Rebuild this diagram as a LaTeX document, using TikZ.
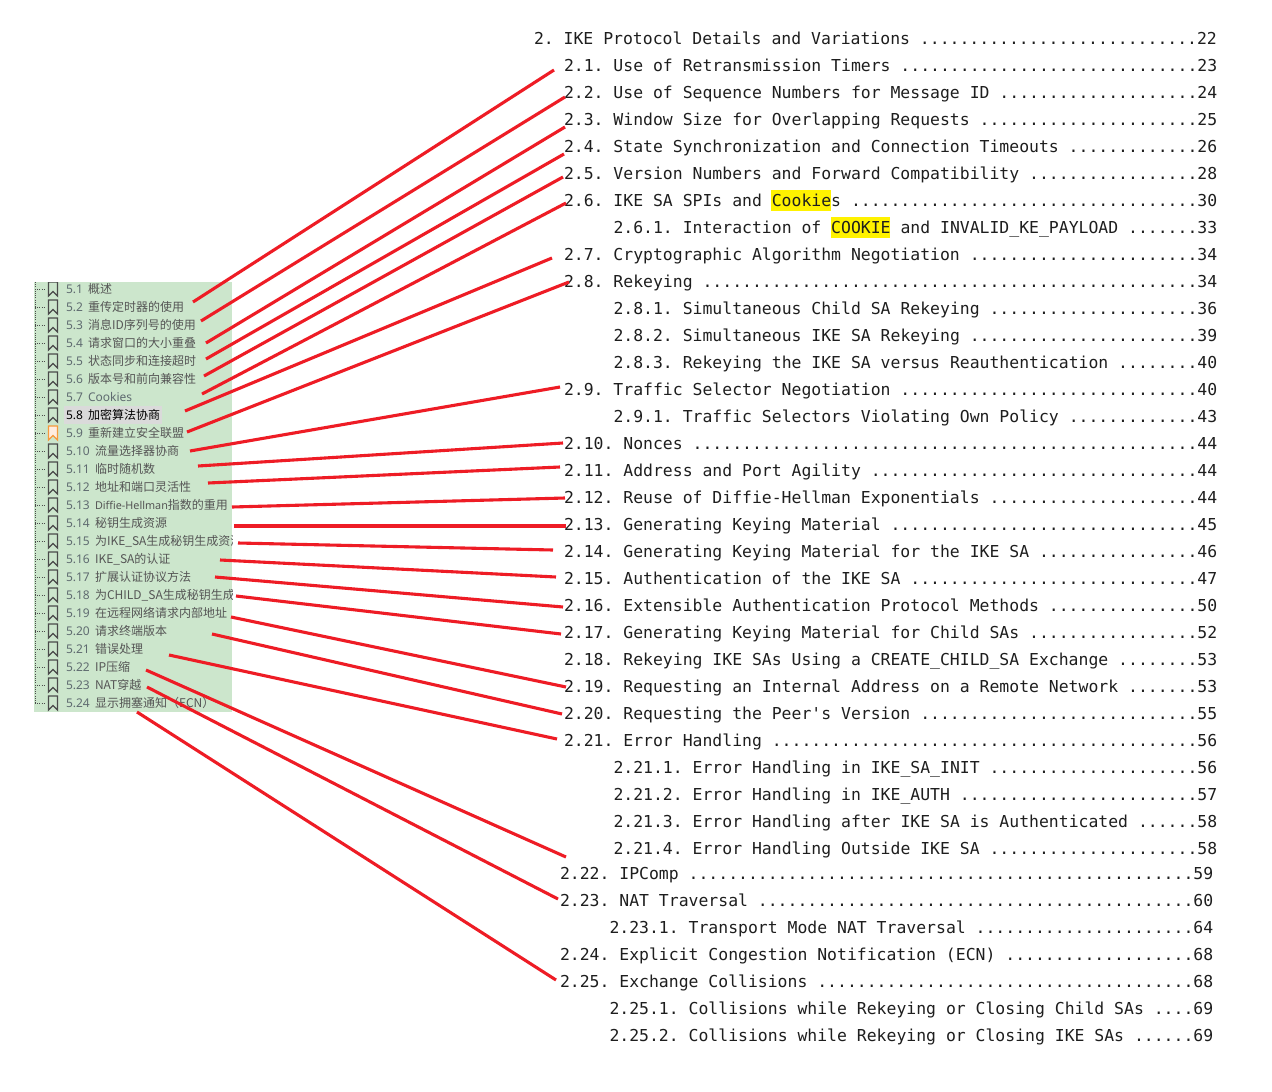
\documentclass[tikz,border=0pt]{standalone}
\usepackage{fontspec}
\setmainfont{Noto Sans}
\newfontfamily\tocfont{DejaVu Sans Mono}
\newfontfamily\cjkf{Noto Sans CJK SC}
\newfontfamily\numf{Noto Sans}
\definecolor{panelgreen}{HTML}{CCE6CC}
\definecolor{linered}{HTML}{EE1C25}
\definecolor{toctext}{HTML}{1E1E1E}
\definecolor{bmtext}{HTML}{555555}
\definecolor{bmnum}{HTML}{5F6B70}
\definecolor{bmline}{HTML}{4A4A4A}
\definecolor{bmorange}{HTML}{F59A3C}
\definecolor{bmpale}{HTML}{FFEDE0}
\definecolor{bmsel}{HTML}{DADADA}
\frenchspacing
\newcount\dotcnt
\newlength\charw
\newcommand\dotrun[1]{\dotcnt=#1\relax\loop\ifnum\dotcnt>0 .\advance\dotcnt-1\repeat}
% \tocl{name}{x}{y}{columns}{title}{page}
\newcommand\tocl[6]{%
  \node[tocitem] (#1) at (#2,#3) {\setbox0\hbox{#5}\setbox2\hbox{0}\setlength\charw{\wd2}%
    #5 \dotrun{\numexpr#4-(\wd0+\charw/2)/\charw-3\relax}#6};}
% \bmk{name}{y}{number}{text}
\newcommand\numbox[1]{\setbox0\hbox{\numf #1}\makebox[\ifdim\wd0>20pt 29pt\else 22pt\fi][l]{\numf #1}}
\newcommand\bmk[4]{%
  \draw[tree] (35,#2) -- (45,#2);
  \draw[bmark] (48.5,#2-7) -- (57.5,#2-7) -- (57.5,#2+7) -- (53,#2+2.5) -- (48.5,#2+7) -- cycle;
  \node[bmitem] (#1) at (66,#2+4.3) {\color{bmnum}\numbox{#3}\color{bmtext}#4};}
\tikzset{
  tocitem/.style={anchor=base west,inner sep=0pt,outer sep=0pt,text=toctext,font=\tocfont\fontsize{16.44}{16.44}\selectfont},
  bmitem/.style={anchor=base west,inner sep=0pt,outer sep=0pt,text=bmtext,font=\cjkf\fontsize{12}{12}\selectfont},
  tree/.style={bmline,line width=0.7pt,dash pattern=on 1pt off 1.2pt},
  bmark/.style={bmline,line width=1.4pt,line join=miter},
  redline/.style={linered,line width=3.1pt}
}
\begin{document}
\begin{tikzpicture}[x=1pt,y=-1pt]
\useasboundingbox (0,0) rectangle (1272,1092);
\fill[white] (0,0) rectangle (1272,1092);
% highlights
\fill[yellow] (771,190) rectangle (831,211);
\fill[yellow] (831,217) rectangle (890,238);
% table of contents
\tocl{t2}{534}{44}{69}{2. IKE Protocol Details and Variations}{22}
\tocl{t21}{564}{71}{66}{2.1. Use of Retransmission Timers}{23}
\tocl{t22}{564}{98}{66}{2.2. Use of Sequence Numbers for Message ID}{24}
\tocl{t23}{564}{125}{66}{2.3. Window Size for Overlapping Requests}{25}
\tocl{t24}{564}{152}{66}{2.4. State Synchronization and Connection Timeouts}{26}
\tocl{t25}{564}{179}{66}{2.5. Version Numbers and Forward Compatibility}{28}
\tocl{t26}{564}{206}{66}{2.6. IKE SA SPIs and Cookies}{30}
\tocl{t261}{613.5}{233}{61}{2.6.1. Interaction of COOKIE and INVALID\_KE\_PAYLOAD}{33}
\tocl{t27}{564}{260}{66}{2.7. Cryptographic Algorithm Negotiation}{34}
\tocl{t28}{564}{287}{66}{2.8. Rekeying}{34}
\tocl{t281}{613.5}{314}{61}{2.8.1. Simultaneous Child SA Rekeying}{36}
\tocl{t282}{613.5}{341}{61}{2.8.2. Simultaneous IKE SA Rekeying}{39}
\tocl{t283}{613.5}{368}{61}{2.8.3. Rekeying the IKE SA versus Reauthentication}{40}
\tocl{t29}{564}{395}{66}{2.9. Traffic Selector Negotiation}{40}
\tocl{t291}{613.5}{422}{61}{2.9.1. Traffic Selectors Violating Own Policy}{43}
\tocl{t210}{564}{449}{66}{2.10. Nonces}{44}
\tocl{t211}{564}{476}{66}{2.11. Address and Port Agility}{44}
\tocl{t212}{564}{503}{66}{2.12. Reuse of Diffie-Hellman Exponentials}{44}
\tocl{t213}{564}{530}{66}{2.13. Generating Keying Material}{45}
\tocl{t214}{564}{557}{66}{2.14. Generating Keying Material for the IKE SA}{46}
\tocl{t215}{564}{584}{66}{2.15. Authentication of the IKE SA}{47}
\tocl{t216}{564}{611}{66}{2.16. Extensible Authentication Protocol Methods}{50}
\tocl{t217}{564}{638}{66}{2.17. Generating Keying Material for Child SAs}{52}
\tocl{t218}{564}{665}{66}{2.18. Rekeying IKE SAs Using a CREATE\_CHILD\_SA Exchange}{53}
\tocl{t219}{564}{692}{66}{2.19. Requesting an Internal Address on a Remote Network}{53}
\tocl{t220}{564}{719}{66}{2.20. Requesting the Peer's Version}{55}
\tocl{t221}{564}{746}{66}{2.21. Error Handling}{56}
\tocl{t2211}{613.5}{773}{61}{2.21.1. Error Handling in IKE\_SA\_INIT}{56}
\tocl{t2212}{613.5}{800}{61}{2.21.2. Error Handling in IKE\_AUTH}{57}
\tocl{t2213}{613.5}{827}{61}{2.21.3. Error Handling after IKE SA is Authenticated}{58}
\tocl{t2214}{613.5}{854}{61}{2.21.4. Error Handling Outside IKE SA}{58}
\tocl{t222}{560}{879}{66}{2.22. IPComp}{59}
\tocl{t223}{560}{906}{66}{2.23. NAT Traversal}{60}
\tocl{t2231}{609.5}{933}{61}{2.23.1. Transport Mode NAT Traversal}{64}
\tocl{t224}{560}{960}{66}{2.24. Explicit Congestion Notification (ECN)}{68}
\tocl{t225}{560}{987}{66}{2.25. Exchange Collisions}{68}
\tocl{t2251}{609.5}{1014}{61}{2.25.1. Collisions while Rekeying or Closing Child SAs}{69}
\tocl{t2252}{609.5}{1041}{61}{2.25.2. Collisions while Rekeying or Closing IKE SAs}{69}
% bookmark panel
\fill[panelgreen] (34,282) rectangle (232,712);
\draw[tree] (35,282) -- (35,703);
\fill[bmsel] (64,406) rectangle (162,424);
\begin{scope}
\clip (34,282) rectangle (232,712);
\bmk{b1}{289}{5.1}{概述}
\bmk{b2}{307}{5.2}{重传定时器的使用}
\bmk{b3}{325}{5.3}{消息ID序列号的使用}
\bmk{b4}{343}{5.4}{请求窗口的大小重叠}
\bmk{b5}{361}{5.5}{状态同步和连接超时}
\bmk{b6}{379}{5.6}{版本号和前向兼容性}
\bmk{b7}{397}{5.7}{{\numf\color{bmnum}Cookies}}
\draw[tree] (35,415) -- (45,415);
\draw[bmark] (48.5,408) -- (57.5,408) -- (57.5,422) -- (53,417.5) -- (48.5,422) -- cycle;
\node[bmitem,text=black] (b8) at (66,419.3) {\numbox{5.8}加密算法协商};
\draw[tree] (35,433) -- (45,433);
\draw[bmorange,fill=bmpale,line width=1.4pt] (48.5,426) -- (57.5,426) -- (57.5,440) -- (53,435.5) -- (48.5,440) -- cycle;
\node[bmitem] (b9) at (66,437.3) {\color{bmnum}\numbox{5.9}\color{bmtext}重新建立安全联盟};
\bmk{b10}{451}{5.10}{流量选择器协商}
\bmk{b11}{469}{5.11}{临时随机数}
\bmk{b12}{487}{5.12}{地址和端口灵活性}
\bmk{b13}{505}{5.13}{{\numf\fontsize{10.8}{12}\selectfont Diffie-Hellman}指数的重用}
\bmk{b14}{523}{5.14}{秘钥生成资源}
\bmk{b15}{541}{5.15}{为IKE\_SA生成秘钥生成资源}
\bmk{b16}{559}{5.16}{IKE\_SA的认证}
\bmk{b17}{577}{5.17}{扩展认证协议方法}
\bmk{b18}{595}{5.18}{为CHILD\_SA生成秘钥生成资源}
\bmk{b19}{613}{5.19}{在远程网络请求内部地址}
\bmk{b20}{631}{5.20}{请求终端版本}
\bmk{b21}{649}{5.21}{错误处理}
\bmk{b22}{667}{5.22}{IP压缩}
\bmk{b23}{685}{5.23}{NAT穿越}
\bmk{b24}{703}{5.24}{显示拥塞通知（ECN）}
\end{scope}
% connector ends
\foreach \n/\xa/\ya/\xb/\yb in {
 1/193/302/554/70, 2/201/321/565/97, 3/206/343/565/127, 4/206/359/564/154,
 5/204/376/563/177, 6/202/394/566/203, 7/185/411/552/258, 8/187/432/569/282,
 9/190/451/560/387, 10/198/466/563/443, 11/208/483/560/467, 12/232/507/565/498,
 13/234/526/566/526, 14/238/543/553/550, 15/220/560/556/577, 16/215/577/563/607,
 17/236/596/561/634, 18/231/617/566/687, 19/212/634/562/714, 20/169/655/557/739,
 21/146/670/566/857, 22/147/687/558/899, 23/137/712/556/980}{
 \coordinate (ca\n) at (\xa,\ya);
 \coordinate (cb\n) at (\xb,\yb);
 \draw[redline] (ca\n) -- (cb\n);
}
\end{tikzpicture}
\end{document}
